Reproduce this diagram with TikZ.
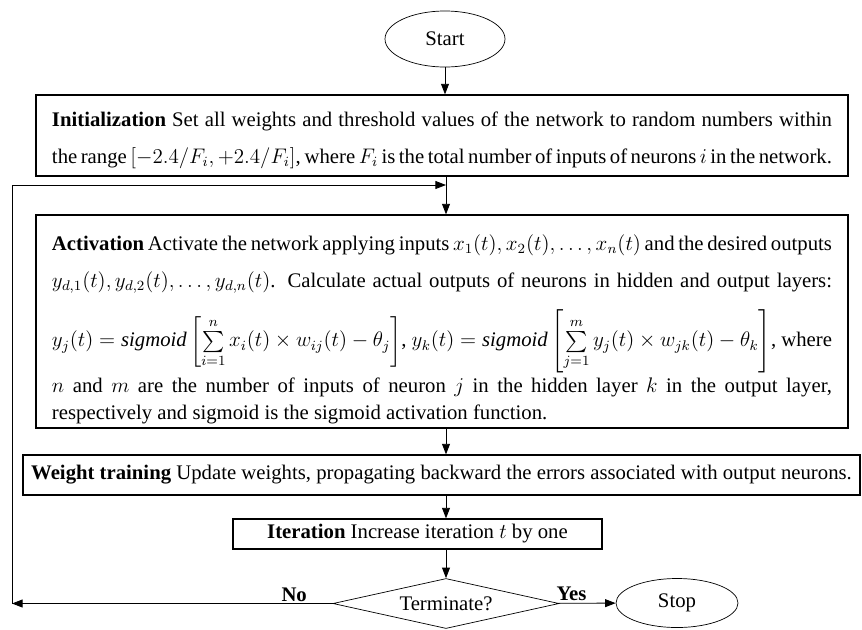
\documentclass[tikz,border=0pt]{standalone}
\usepackage{amsmath}
\usepackage{fontspec}
\setmainfont{Liberation Serif}
\usetikzlibrary{arrows.meta,shapes.geometric,positioning}

% strut with given height and depth
\newcommand{\lnstrut}[2]{\rule[-#2]{0pt}{\dimexpr #1+#2\relax}}

\begin{document}
\begin{tikzpicture}[
    font=\fontsize{11.8}{15.4}\selectfont,
    term/.style={draw, ellipse, thin, inner sep=0pt, minimum width=2.4cm, minimum height=1.12cm},
    stepbox/.style={draw, line width=0.7pt, inner xsep=0.32cm, inner ysep=0pt, text width=15.6cm, align=justify},
    onebox/.style={draw, line width=0.7pt, inner sep=0pt, align=center},
    test/.style={draw, diamond, thin, aspect=4.5, inner sep=0pt, minimum width=4.52cm, minimum height=1.0cm},
    arr/.style={-{Triangle[length=6pt,width=4.5pt]}, line width=0.5pt},
    lbl/.style={font=\fontsize{11.8}{14}\selectfont\bfseries, inner sep=1pt}
]
\useasboundingbox (0,0) rectangle (17.24,-12.58);

\node[term] (start) at (8.9,-0.78) {Start};

\node[stepbox, minimum height=1.62cm, font=\fontsize{11.8}{21}\selectfont] (init) at (8.84,-2.71)
  {\parfillskip=0pt\relax\lnstrut{14pt}{0pt}\textbf{Initialization} Set all weights and threshold values of the network to random numbers within\linebreak
   the range $[-2.4/F_i,+2.4/F_i]$, where $F_i$ is the total number of inputs of neurons $i$ in the network.};

\node[stepbox, minimum height=4.26cm] (act) at (8.84,-6.43)
  {\textbf{Activation} Activate the network applying inputs $x_1(t),x_2(t),\ldots,x_n(t)$ and the desired outputs\lnstrut{18pt}{6pt}\linebreak
   \lnstrut{14pt}{11pt}$y_{d,1}(t),y_{d,2}(t),\ldots,y_{d,n}(t)$. Calculate actual outputs of neurons in hidden and output layers:\linebreak
   \lnstrut{22pt}{16.6pt}$y_j(t)=\textit{sigmoid}\left[\sum\limits_{i=1}^{n}x_i(t)\times w_{ij}(t)-\theta_j\right]$,
   $y_k(t)=\textit{sigmoid}\left[\sum\limits_{j=1}^{m}y_j(t)\times w_{jk}(t)-\theta_k\right]$, where\linebreak
   \lnstrut{8.5pt}{0pt}$n$ and $m$ are the number of inputs of neuron $j$ in the hidden layer $k$ in the output layer,\linebreak
   respectively and sigmoid is the sigmoid activation function.};

\node[onebox, minimum width=16.74cm, minimum height=0.8cm] (wt) at (8.83,-9.5)
  {\textbf{Weight training} Update weights, propagating backward the errors associated with output neurons.};

\node[onebox, minimum width=7.38cm, minimum height=0.6cm] (iter) at (8.35,-10.68)
  {\textbf{Iteration} Increase iteration $t$ by one};

\node[test] (decide) at (8.92,-12.07) {Terminate?};
\node[term, minimum width=2.44cm, minimum height=0.98cm] (stop) at (13.54,-12.06) {Stop};

\coordinate (axis) at (8.92,0);
\coordinate (join) at (8.92,-3.7);
\coordinate (back) at (0.24,-12.07);

\draw[arr] (start) -- (init.north -| start);
\draw[arr] (init.south -| axis) -- (act.north -| axis);
\draw[arr] (act.south -| axis) -- (wt.north -| axis);
\draw[arr] (wt.south -| axis) -- (iter.north -| axis);
\draw[arr] (iter.south -| axis) -- (decide);
\draw[arr] (decide) -- node[lbl, above, pos=0.23] {Yes} (stop);
\draw[arr] (decide) -- node[lbl, above, pos=0.12] {No} (back);
\draw[arr] (back) |- (join);
\end{tikzpicture}
\end{document}
